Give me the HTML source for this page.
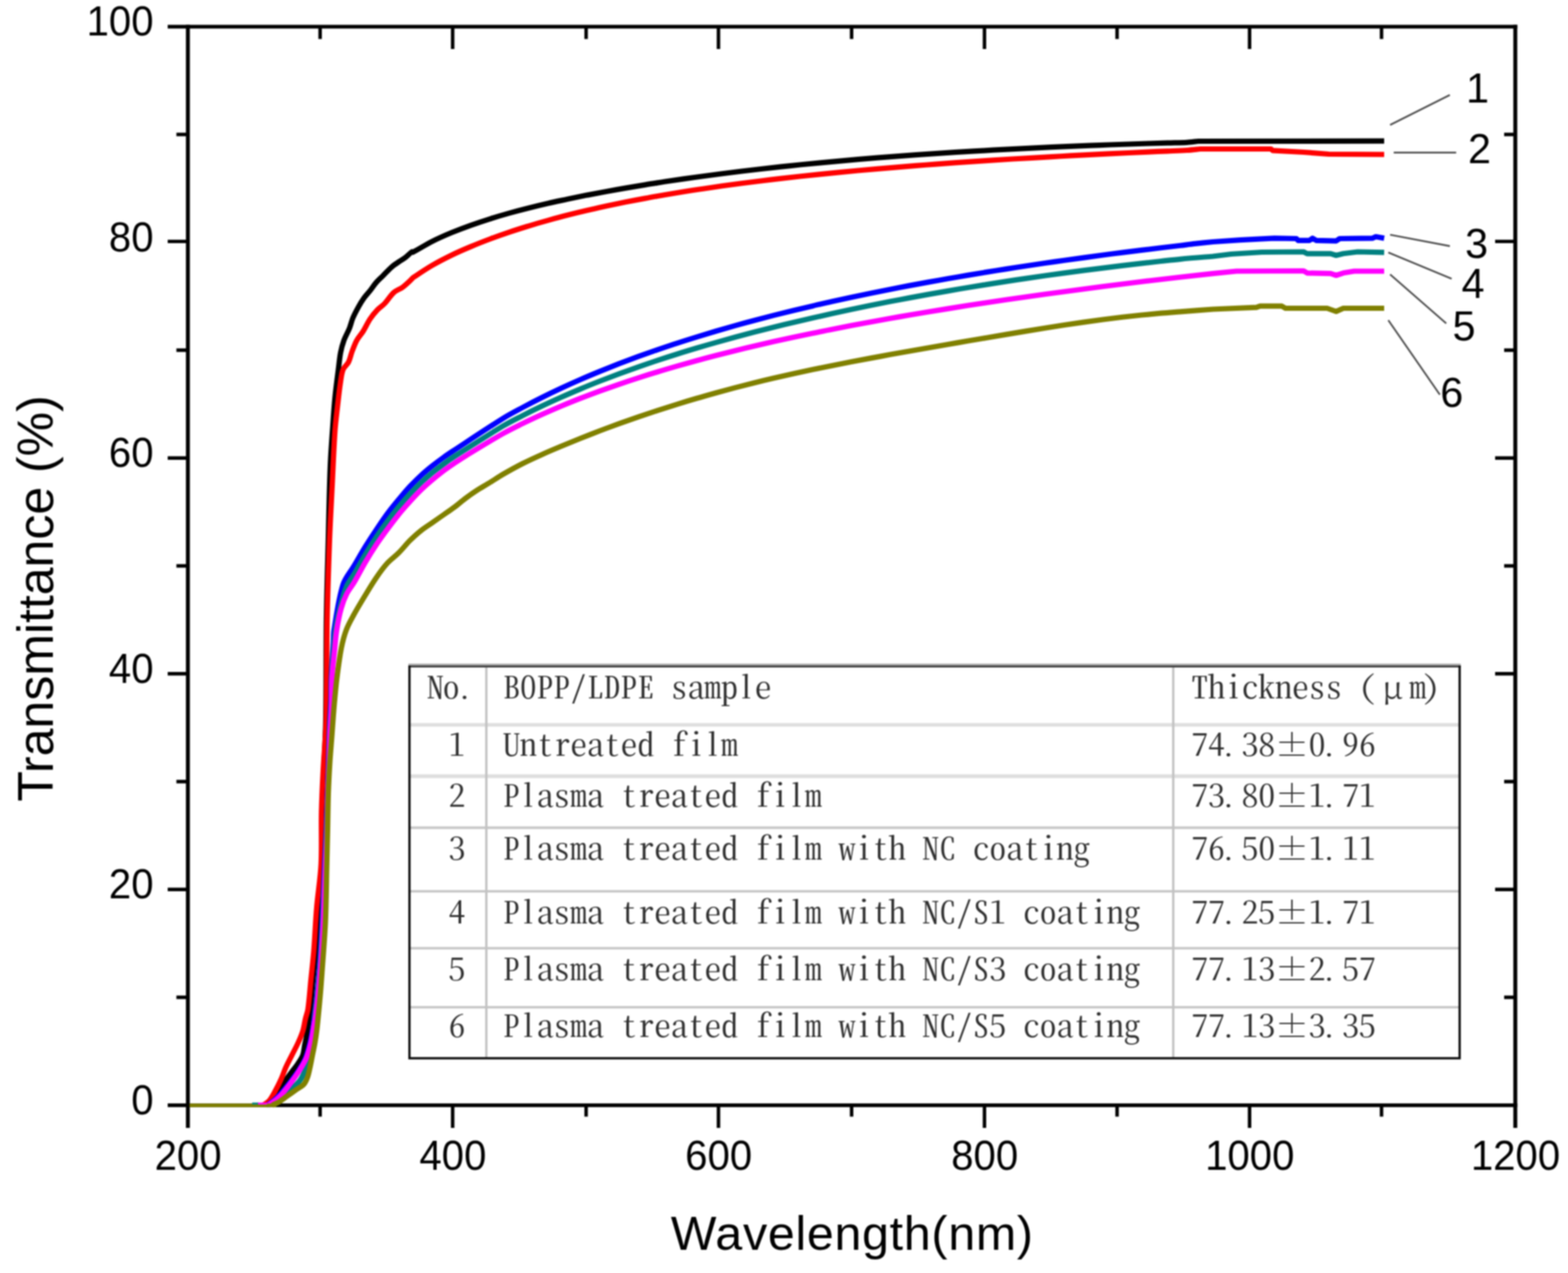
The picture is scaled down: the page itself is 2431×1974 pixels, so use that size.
<!DOCTYPE html>
<html lang="en"><head><meta charset="utf-8"><title>Transmittance vs Wavelength</title>
<style>
html,body{margin:0;padding:0;background:#fff;overflow:hidden;}
body{width:2431px;height:1974px;overflow:hidden;}
svg{display:block;filter:blur(0.8px);}
.ax{font-family:"Liberation Sans",Arial,sans-serif;fill:#000;}
.tb{font-family:"Noto Serif CJK SC","Liberation Serif",serif;fill:#2e2e2e;font-feature-settings:"hwid" 1,"liga" 0,"clig" 0,"calt" 0,"kern" 0;font-variant-ligatures:none;font-kerning:none;white-space:pre;}
</style></head><body>
<svg width="2431" height="1974" viewBox="0 0 2431 1974" role="img" aria-label="Transmittance versus wavelength of BOPP/LDPE film samples">
<rect width="2431" height="1974" fill="#fff"/>
<g stroke="#000" fill="none" stroke-linecap="butt">
<path stroke-width="5.7" d="M260 41.3 H2352.4"/>
<path stroke-width="5.7" d="M260 1713.8 H2352.4"/>
<path stroke-width="6.1" d="M291.3 38.4 V1749"/>
<path stroke-width="6.1" d="M2349.3 38.4 V1749"/>
</g>
<g stroke="#000" stroke-width="5.4" fill="none">
<path d="M496.3 1713.8 V1731.5 M496.3 41.3 V60.6 M701.8 1713.8 V1749 M701.8 41.3 V76 M908.7 1713.8 V1731.5 M908.7 41.3 V60.6 M1113.9 1713.8 V1749 M1113.9 41.3 V76 M1320.3 1713.8 V1731.5 M1320.3 41.3 V60.6 M1526.3 1713.8 V1749 M1526.3 41.3 V76 M1731.9 1713.8 V1731.5 M1731.9 41.3 V60.6 M1937.3 1713.8 V1749 M1937.3 41.3 V76 M2141.9 1713.8 V1731.5 M2141.9 41.3 V60.6 M291.3 1546.5 H273.5 M2349.3 1546.5 H2332 M291.3 1379.3 H260 M2349.3 1379.3 H2318 M291.3 1212.0 H273.5 M2349.3 1212.0 H2332 M291.3 1044.8 H260 M2349.3 1044.8 H2318 M291.3 877.5 H273.5 M2349.3 877.5 H2332 M291.3 710.3 H260 M2349.3 710.3 H2318 M291.3 543.0 H273.5 M2349.3 543.0 H2332 M291.3 374.4 H260 M2349.3 374.4 H2318 M291.3 208.5 H273.5 M2349.3 208.5 H2332"/>
</g>
<g fill="none" stroke-width="8.2" stroke-linejoin="round" stroke-linecap="butt">
<path stroke="#000000" d="M412.0 1713.8 C415.1 1711.9 418.8 1710.7 421.3 1708.0 C425.1 1703.9 427.3 1698.6 430.3 1694.0 C434.0 1688.4 437.6 1682.8 441.4 1677.3 C444.4 1672.9 447.6 1668.5 450.8 1664.2 C454.5 1659.2 458.5 1654.4 462.0 1649.2 C464.8 1645.0 467.8 1640.8 469.5 1636.1 C471.2 1631.4 471.3 1626.2 472.3 1621.2 C473.2 1616.8 474.4 1612.4 475.1 1608.0 C477.3 1593.7 479.4 1579.4 481.0 1565.0 C482.7 1550.0 483.6 1535.0 485.0 1520.0 C486.4 1505.0 488.3 1490.0 489.5 1475.0 C491.3 1452.4 492.4 1429.7 494.0 1407.0 C495.6 1384.7 498.1 1362.4 499.0 1340.0 C500.1 1313.0 499.4 1286.0 500.0 1259.0 C500.4 1238.0 501.3 1217.0 502.0 1196.0 C502.9 1169.7 504.6 1143.3 505.0 1117.0 C505.9 1064.7 505.3 1012.3 506.0 960.0 C506.6 918.7 507.9 877.3 509.0 836.0 C509.9 798.7 510.5 761.3 512.0 724.0 C512.8 702.6 514.5 681.3 516.0 660.0 C517.0 645.3 518.0 630.6 519.4 616.0 C520.8 601.6 522.8 587.2 524.6 572.8 C525.7 564.2 526.4 555.5 528.0 546.9 C529.2 540.5 531.0 534.1 533.2 527.9 C535.6 521.4 539.2 515.4 541.8 509.0 C543.8 503.9 544.9 498.4 547.0 493.3 C549.5 487.4 552.6 481.6 555.7 476.0 C558.3 471.3 561.2 466.6 564.3 462.2 C566.9 458.5 570.1 455.3 572.9 451.8 C576.5 447.3 579.5 442.4 583.3 438.0 C586.5 434.3 590.2 431.1 593.7 427.6 C598.3 423.0 602.6 418.1 607.5 413.8 C611.2 410.6 615.5 408.0 619.6 405.2 C622.4 403.2 625.5 401.6 628.2 399.5 C631.8 396.7 634.9 393.1 638.6 390.5 C639.0 390.2 639.5 391.4 640.0 391.2 C650.2 385.9 659.8 379.6 670.0 374.4 C679.8 369.4 689.9 365.0 700.0 360.8 C709.9 356.7 719.9 352.9 730.0 349.3 C739.9 345.8 749.9 342.5 760.0 339.3 C769.9 336.2 780.0 333.2 790.0 330.4 C800.0 327.6 810.0 325.0 820.0 322.5 C830.0 320.0 840.0 317.6 850.0 315.3 C860.0 313.0 870.0 310.9 880.0 308.7 C890.0 306.6 900.0 304.6 910.0 302.6 C920.0 300.7 930.0 298.8 940.0 297.0 C950.0 295.1 960.0 293.3 970.0 291.6 C980.0 289.9 990.0 288.2 1000.0 286.6 C1010.0 284.9 1020.0 283.4 1030.0 281.8 C1040.0 280.3 1050.0 278.8 1060.0 277.4 C1070.0 275.9 1080.0 274.5 1090.0 273.2 C1100.0 271.8 1110.0 270.5 1120.0 269.2 C1130.0 267.9 1140.0 266.7 1150.0 265.5 C1160.0 264.3 1170.0 263.1 1180.0 262.0 C1190.0 260.8 1200.0 259.7 1210.0 258.6 C1220.0 257.6 1230.0 256.5 1240.0 255.5 C1250.0 254.5 1260.0 253.5 1270.0 252.6 C1280.0 251.6 1290.0 250.7 1300.0 249.8 C1310.0 248.9 1320.0 248.0 1330.0 247.2 C1340.0 246.3 1350.0 245.5 1360.0 244.7 C1370.0 243.9 1380.0 243.1 1390.0 242.4 C1400.0 241.6 1410.0 240.9 1420.0 240.2 C1430.0 239.5 1440.0 238.8 1450.0 238.1 C1460.0 237.5 1470.0 236.8 1480.0 236.2 C1490.0 235.6 1500.0 235.0 1510.0 234.4 C1520.0 233.8 1530.0 233.2 1540.0 232.7 C1550.0 232.1 1560.0 231.6 1570.0 231.1 C1580.0 230.6 1590.0 230.1 1600.0 229.6 C1610.0 229.1 1620.0 228.6 1630.0 228.2 C1640.0 227.7 1650.0 227.3 1660.0 226.9 C1670.0 226.5 1680.0 226.1 1690.0 225.7 C1700.0 225.3 1710.0 224.9 1720.0 224.5 C1730.0 224.2 1740.0 223.8 1750.0 223.5 C1760.0 223.1 1770.0 222.8 1780.0 222.5 C1790.0 222.2 1800.0 221.9 1810.0 221.6 C1820.0 221.3 1830.0 221.3 1840.0 220.8 C1846.0 220.4 1852.0 219.6 1858.0 219.0 L2146.0 218.7"/>
<path stroke="#ff0000" d="M408.0 1713.8 C411.0 1711.6 414.7 1710.0 417.1 1707.2 C420.9 1702.8 423.6 1697.4 426.4 1692.3 C429.8 1686.2 432.9 1679.9 435.8 1673.5 C438.6 1667.4 440.5 1660.9 443.3 1654.8 C446.2 1648.4 449.5 1642.3 452.6 1636.1 C455.7 1629.9 459.1 1623.8 462.0 1617.4 C464.8 1611.3 467.5 1605.1 469.5 1598.7 C471.4 1592.6 472.0 1586.2 473.5 1580.0 C474.7 1574.9 476.8 1569.9 477.5 1564.7 C479.6 1549.9 480.5 1534.9 482.0 1520.0 C483.5 1505.0 485.3 1490.0 486.5 1475.0 C488.3 1452.5 489.1 1429.9 491.0 1407.4 C492.9 1384.9 496.7 1362.6 497.8 1340.0 C499.1 1313.0 497.8 1286.0 498.4 1259.0 C498.9 1238.0 499.9 1217.0 501.0 1196.0 C502.3 1169.7 504.9 1143.4 505.6 1117.0 C507.0 1064.7 506.2 1012.3 507.2 960.0 C508.0 918.9 509.4 877.9 510.9 836.8 C512.0 808.7 513.6 780.7 515.0 752.6 C516.4 724.5 517.4 696.4 519.3 668.4 C520.2 654.9 522.0 641.5 523.5 628.0 C524.8 616.7 526.0 605.3 527.7 594.0 C528.8 586.9 529.3 579.6 531.9 572.9 C533.6 568.6 538.2 565.9 540.3 561.7 C542.9 556.4 543.8 550.4 545.9 544.9 C548.1 539.2 550.1 533.4 553.0 528.0 C555.7 523.0 559.8 518.8 562.8 514.0 C566.8 507.6 569.8 500.6 574.0 494.3 C577.3 489.3 581.1 484.6 585.2 480.3 C588.6 476.7 593.1 474.1 596.5 470.5 C601.5 465.2 605.1 458.5 610.5 453.6 C614.5 450.0 620.1 448.5 624.5 445.2 C629.5 441.4 634.0 436.9 638.6 432.6 C639.2 432.1 639.4 431.3 640.0 430.8 C649.9 424.2 659.7 417.5 670.0 411.5 C679.7 405.8 689.8 400.7 700.0 395.7 C709.8 391.0 719.9 386.6 730.0 382.4 C739.9 378.2 749.9 374.3 760.0 370.5 C769.9 366.8 779.9 363.3 790.0 359.9 C799.9 356.5 810.0 353.4 820.0 350.3 C830.0 347.2 840.0 344.3 850.0 341.6 C860.0 338.8 870.0 336.1 880.0 333.6 C890.0 331.0 900.0 328.6 910.0 326.3 C920.0 323.9 930.0 321.7 940.0 319.5 C950.0 317.4 960.0 315.3 970.0 313.3 C980.0 311.3 990.0 309.4 1000.0 307.6 C1010.0 305.7 1020.0 304.0 1030.0 302.2 C1040.0 300.5 1050.0 298.9 1060.0 297.3 C1070.0 295.7 1080.0 294.1 1090.0 292.7 C1100.0 291.2 1110.0 289.7 1120.0 288.3 C1130.0 286.9 1140.0 285.6 1150.0 284.3 C1160.0 283.0 1170.0 281.7 1180.0 280.5 C1190.0 279.2 1200.0 278.0 1210.0 276.9 C1220.0 275.7 1230.0 274.6 1240.0 273.5 C1250.0 272.4 1260.0 271.4 1270.0 270.4 C1280.0 269.3 1290.0 268.3 1300.0 267.4 C1310.0 266.4 1320.0 265.4 1330.0 264.5 C1340.0 263.6 1350.0 262.7 1360.0 261.9 C1370.0 261.0 1380.0 260.1 1390.0 259.3 C1400.0 258.5 1410.0 257.7 1420.0 256.9 C1430.0 256.1 1440.0 255.4 1450.0 254.6 C1460.0 253.9 1470.0 253.2 1480.0 252.4 C1490.0 251.7 1500.0 251.1 1510.0 250.4 C1520.0 249.7 1530.0 249.1 1540.0 248.4 C1550.0 247.8 1560.0 247.2 1570.0 246.5 C1580.0 245.9 1590.0 245.3 1600.0 244.8 C1610.0 244.2 1620.0 243.6 1630.0 243.1 C1640.0 242.5 1650.0 242.0 1660.0 241.4 C1670.0 240.9 1680.0 240.4 1690.0 239.9 C1700.0 239.4 1710.0 238.9 1720.0 238.4 C1730.0 237.9 1740.0 237.4 1750.0 237.0 C1760.0 236.5 1770.0 236.0 1780.0 235.6 C1790.0 235.2 1800.0 234.7 1810.0 234.3 C1820.0 233.9 1830.0 233.7 1840.0 233.0 C1847.0 232.6 1854.0 231.7 1861.0 231.0 L1970.5 231.0 L1973.0 233.3 L2021.0 236.0 L2060.0 239.0 L2146.0 239.5"/>
<path stroke="#0000ff" d="M414.0 1713.8 C417.3 1711.5 420.9 1709.6 424.0 1707.0 C428.0 1703.6 431.5 1699.9 435.0 1696.0 C440.1 1690.4 444.9 1684.5 449.5 1678.5 C454.0 1672.6 458.5 1666.7 462.5 1660.5 C466.4 1654.4 470.5 1648.4 473.3 1641.7 C476.5 1633.9 478.5 1625.6 480.5 1617.4 C482.7 1608.4 484.2 1599.2 485.7 1590.0 C486.5 1585.4 486.7 1580.7 487.2 1576.0 C488.5 1564.7 490.1 1553.4 491.2 1542.0 C492.7 1527.0 494.1 1512.0 495.2 1497.0 C496.8 1474.7 498.1 1452.3 499.2 1430.0 C500.7 1400.0 501.8 1370.0 503.2 1340.0 C504.0 1322.0 505.0 1304.0 505.7 1286.0 C506.4 1268.0 507.0 1250.0 507.6 1232.0 C508.1 1216.3 508.7 1200.7 509.2 1185.0 C509.8 1165.7 510.2 1146.3 510.9 1127.0 C511.4 1113.0 512.5 1099.0 513.0 1085.0 C513.4 1073.3 513.1 1061.7 513.6 1050.0 C514.4 1032.0 515.8 1014.0 516.9 996.0 C517.3 989.7 516.9 983.3 517.9 977.0 C521.8 953.4 524.7 929.4 531.8 906.5 C535.2 895.7 543.4 886.9 549.1 877.1 C554.9 867.3 560.4 857.4 566.4 847.7 C572.0 838.7 577.8 829.8 583.7 821.0 C589.3 812.5 594.9 804.1 601.0 795.9 C606.4 788.5 612.3 781.4 618.2 774.3 C623.9 767.6 629.5 760.9 635.5 754.4 C641.1 748.5 646.8 742.7 652.8 737.2 C658.4 732.0 664.2 727.2 670.1 722.5 C675.7 718.0 681.5 713.7 687.4 709.5 C691.9 706.2 696.5 703.1 701.2 700.0 C727.4 682.8 753.4 665.3 780.0 648.7 C789.7 642.6 799.9 637.4 810.0 632.0 C819.9 626.7 829.9 621.5 840.0 616.5 C849.9 611.5 859.9 606.7 870.0 602.0 C879.9 597.4 889.9 592.9 900.0 588.5 C909.9 584.2 920.0 580.0 930.0 575.9 C940.0 571.8 950.0 567.8 960.0 563.9 C970.0 560.1 980.0 556.4 990.0 552.7 C1000.0 549.1 1010.0 545.6 1020.0 542.1 C1030.0 538.7 1040.0 535.3 1050.0 532.1 C1060.0 528.8 1070.0 525.7 1080.0 522.6 C1090.0 519.5 1100.0 516.5 1110.0 513.5 C1120.0 510.6 1130.0 507.7 1140.0 504.9 C1150.0 502.1 1160.0 499.4 1170.0 496.8 C1180.0 494.1 1190.0 491.5 1200.0 488.9 C1210.0 486.4 1220.0 483.9 1230.0 481.5 C1240.0 479.1 1250.0 476.7 1260.0 474.4 C1270.0 472.0 1280.0 469.8 1290.0 467.5 C1300.0 465.3 1310.0 463.1 1320.0 461.0 C1330.0 458.9 1340.0 456.8 1350.0 454.7 C1360.0 452.7 1370.0 450.7 1380.0 448.7 C1390.0 446.8 1400.0 444.8 1410.0 442.9 C1420.0 441.0 1430.0 439.2 1440.0 437.4 C1450.0 435.6 1460.0 433.8 1470.0 432.0 C1480.0 430.3 1490.0 428.6 1500.0 426.9 C1510.0 425.2 1520.0 423.5 1530.0 421.9 C1540.0 420.3 1550.0 418.7 1560.0 417.1 C1570.0 415.6 1580.0 414.0 1590.0 412.5 C1600.0 411.0 1610.0 409.5 1620.0 408.0 C1630.0 406.6 1640.0 405.1 1650.0 403.7 C1660.0 402.3 1670.0 400.9 1680.0 399.6 C1690.0 398.2 1700.0 396.8 1710.0 395.5 C1720.0 394.2 1730.0 392.9 1740.0 391.6 C1750.0 390.3 1760.0 389.1 1770.0 387.9 C1780.0 386.6 1790.0 385.4 1800.0 384.2 C1810.0 383.0 1820.0 381.9 1830.0 380.7 C1837.5 379.8 1845.1 378.7 1852.6 377.9 C1862.0 376.9 1871.3 376.0 1880.7 375.0 L1922.8 372.2 L1976.0 369.4 L2009.8 370.0 L2012.6 372.8 L2030.0 372.8 L2035.0 369.4 L2040.6 372.8 L2071.5 373.6 L2077.0 370.0 L2127.6 369.4 L2133.0 367.0 L2146.0 369.4"/>
<path stroke="#008080" d="M416.0 1713.8 C420.0 1711.7 424.2 1709.9 428.0 1707.5 C432.5 1704.6 436.8 1701.3 441.0 1698.0 C445.8 1694.2 450.6 1690.3 455.0 1686.0 C458.9 1682.2 463.1 1678.6 466.0 1674.0 C469.8 1668.1 472.5 1661.6 474.9 1655.0 C477.7 1646.9 479.7 1638.4 481.6 1630.0 C483.8 1620.1 486.0 1610.1 487.2 1600.0 C488.2 1592.1 487.5 1584.0 488.2 1576.0 C489.2 1564.6 491.1 1553.4 492.2 1542.0 C493.7 1527.0 495.1 1512.0 496.2 1497.0 C497.8 1474.7 499.1 1452.3 500.2 1430.0 C501.7 1400.0 502.9 1370.0 504.2 1340.0 C504.9 1322.0 505.6 1304.0 506.2 1286.0 C506.8 1268.0 507.3 1250.0 507.9 1232.0 C508.4 1216.3 509.2 1200.7 509.7 1185.0 C510.3 1168.0 510.5 1151.0 511.2 1134.0 C511.8 1119.3 513.1 1104.7 513.6 1090.0 C514.1 1076.7 513.5 1063.3 514.2 1050.0 C515.0 1033.3 516.7 1016.7 518.0 1000.0 C518.6 992.3 518.8 984.6 520.0 977.0 C521.9 964.9 524.5 952.9 527.5 941.0 C530.2 930.5 532.8 919.9 537.0 910.0 C540.1 902.8 545.2 896.8 549.1 890.1 C555.0 880.1 560.4 869.8 566.4 859.8 C571.9 850.6 577.7 841.5 583.7 832.5 C589.2 824.2 595.0 816.0 601.0 808.0 C606.5 800.5 612.3 793.1 618.2 785.9 C623.8 779.1 629.6 772.5 635.5 766.0 C641.1 760.0 646.8 754.1 652.8 748.4 C658.4 743.1 664.2 738.1 670.1 733.2 C675.7 728.6 681.5 724.2 687.4 719.9 C693.0 715.7 698.7 711.6 704.6 707.8 C729.6 691.8 754.6 675.8 780.0 660.6 C789.7 654.7 799.9 649.8 810.0 644.6 C819.9 639.5 829.9 634.6 840.0 629.8 C849.9 625.0 859.9 620.5 870.0 616.0 C879.9 611.6 890.0 607.3 900.0 603.1 C910.0 598.9 920.0 594.9 930.0 591.0 C940.0 587.1 950.0 583.3 960.0 579.6 C970.0 575.9 980.0 572.3 990.0 568.8 C1000.0 565.3 1010.0 561.9 1020.0 558.6 C1030.0 555.3 1040.0 552.1 1050.0 549.0 C1060.0 545.8 1070.0 542.8 1080.0 539.8 C1090.0 536.8 1100.0 533.9 1110.0 531.1 C1120.0 528.3 1130.0 525.5 1140.0 522.8 C1150.0 520.1 1160.0 517.4 1170.0 514.8 C1180.0 512.2 1190.0 509.7 1200.0 507.2 C1210.0 504.8 1220.0 502.3 1230.0 499.9 C1240.0 497.6 1250.0 495.3 1260.0 493.0 C1270.0 490.7 1280.0 488.5 1290.0 486.3 C1300.0 484.1 1310.0 481.9 1320.0 479.8 C1330.0 477.7 1340.0 475.6 1350.0 473.6 C1360.0 471.6 1370.0 469.6 1380.0 467.6 C1390.0 465.7 1400.0 463.8 1410.0 461.9 C1420.0 460.0 1430.0 458.2 1440.0 456.4 C1450.0 454.6 1460.0 452.8 1470.0 451.1 C1480.0 449.3 1490.0 447.6 1500.0 446.0 C1510.0 444.3 1520.0 442.7 1530.0 441.1 C1540.0 439.5 1550.0 437.9 1560.0 436.4 C1570.0 434.8 1580.0 433.3 1590.0 431.9 C1600.0 430.4 1610.0 428.9 1620.0 427.5 C1630.0 426.1 1640.0 424.7 1650.0 423.4 C1660.0 422.0 1670.0 420.7 1680.0 419.4 C1690.0 418.1 1700.0 416.8 1710.0 415.6 C1720.0 414.3 1730.0 413.1 1740.0 411.9 C1750.0 410.7 1760.0 409.5 1770.0 408.4 C1780.0 407.2 1790.0 406.1 1800.0 405.0 C1810.0 403.9 1820.0 402.7 1830.0 401.8 C1846.9 400.2 1863.8 398.9 1880.7 397.5 L1908.7 394.0 L1956.4 391.0 L2021.0 390.5 L2026.6 393.3 L2063.0 393.3 L2071.5 396.0 L2082.7 393.3 L2105.0 390.5 L2146.0 391.3"/>
<path stroke="#ff00ff" d="M416.0 1713.8 C419.3 1711.5 422.7 1709.5 425.8 1707.0 C429.3 1704.2 432.8 1701.3 435.8 1697.9 C441.1 1692.0 446.0 1685.6 450.8 1679.2 C455.4 1673.1 459.8 1666.9 463.9 1660.4 C467.7 1654.3 471.7 1648.3 474.5 1641.7 C477.7 1633.9 479.8 1625.6 481.8 1617.4 C484.0 1608.2 485.1 1598.7 486.8 1589.4 C487.6 1584.9 488.6 1580.5 489.2 1576.0 C490.7 1564.7 492.1 1553.4 493.2 1542.0 C494.7 1527.0 496.1 1512.0 497.2 1497.0 C498.8 1474.7 500.1 1452.3 501.2 1430.0 C502.6 1400.0 503.5 1370.0 504.7 1340.0 C505.5 1322.0 506.6 1304.0 507.2 1286.0 C507.8 1267.3 507.6 1248.7 508.2 1230.0 C508.6 1215.0 509.6 1200.0 510.2 1185.0 C510.8 1170.0 511.0 1155.0 511.6 1140.0 C512.2 1125.0 513.4 1110.0 513.9 1095.0 C514.4 1080.0 513.9 1065.0 514.7 1050.0 C515.6 1035.0 517.5 1020.0 519.0 1005.0 C519.9 995.7 520.5 986.3 522.0 977.0 C523.8 965.7 525.9 954.4 529.0 943.4 C531.1 935.7 533.9 928.1 537.5 921.0 C540.7 914.6 545.5 909.2 549.1 903.0 C555.1 892.8 560.4 882.2 566.4 871.9 C571.9 862.6 577.7 853.3 583.7 844.3 C589.2 836.0 595.1 828.1 601.0 820.1 C606.6 812.5 612.3 805.0 618.2 797.6 C623.8 790.8 629.6 784.3 635.5 777.8 C641.1 771.6 646.8 765.4 652.8 759.6 C658.3 754.2 664.2 749.1 670.1 744.1 C675.7 739.3 681.5 734.7 687.4 730.2 C693.0 726.0 698.8 722.1 704.6 718.1 C710.3 714.3 716.1 710.5 721.9 706.9 C741.2 695.2 760.4 683.4 780.0 672.3 C789.8 666.7 799.9 661.9 810.0 656.9 C819.9 652.0 829.9 647.4 840.0 642.8 C849.9 638.3 859.9 634.0 870.0 629.7 C879.9 625.6 890.0 621.5 900.0 617.6 C910.0 613.7 920.0 610.0 930.0 606.3 C940.0 602.7 950.0 599.2 960.0 595.8 C970.0 592.3 980.0 589.0 990.0 585.8 C1000.0 582.6 1010.0 579.5 1020.0 576.5 C1030.0 573.4 1040.0 570.5 1050.0 567.6 C1060.0 564.8 1070.0 562.0 1080.0 559.3 C1090.0 556.5 1100.0 553.9 1110.0 551.3 C1120.0 548.7 1130.0 546.2 1140.0 543.7 C1150.0 541.3 1160.0 538.9 1170.0 536.5 C1180.0 534.2 1190.0 531.9 1200.0 529.6 C1210.0 527.4 1220.0 525.2 1230.0 523.1 C1240.0 520.9 1250.0 518.8 1260.0 516.7 C1270.0 514.7 1280.0 512.6 1290.0 510.7 C1300.0 508.7 1310.0 506.7 1320.0 504.8 C1330.0 502.9 1340.0 501.0 1350.0 499.2 C1360.0 497.4 1370.0 495.6 1380.0 493.8 C1390.0 492.0 1400.0 490.3 1410.0 488.5 C1420.0 486.8 1430.0 485.1 1440.0 483.5 C1450.0 481.8 1460.0 480.2 1470.0 478.6 C1480.0 477.0 1490.0 475.4 1500.0 473.8 C1510.0 472.3 1520.0 470.8 1530.0 469.2 C1540.0 467.7 1550.0 466.3 1560.0 464.8 C1570.0 463.3 1580.0 461.9 1590.0 460.5 C1600.0 459.0 1610.0 457.6 1620.0 456.2 C1630.0 454.9 1640.0 453.5 1650.0 452.2 C1660.0 450.8 1670.0 449.5 1680.0 448.2 C1690.0 446.9 1700.0 445.6 1710.0 444.3 C1720.0 443.0 1730.0 441.7 1740.0 440.5 C1750.0 439.2 1760.0 438.0 1770.0 436.8 C1780.0 435.6 1790.0 434.4 1800.0 433.2 C1810.0 432.0 1820.0 430.8 1830.0 429.7 C1846.9 427.8 1863.8 426.0 1880.7 424.2 L1917.0 420.5 L2021.0 420.0 L2026.6 423.3 L2063.0 424.2 L2071.5 427.0 L2082.7 423.3 L2099.6 420.5 L2146.0 420.5"/>
<path stroke="#808000" d="M422.0 1713.8 C425.3 1712.2 428.8 1710.9 432.0 1709.0 C436.6 1706.2 440.8 1702.8 445.2 1699.7 C449.6 1696.6 453.9 1693.5 458.3 1690.4 C462.7 1687.3 467.8 1685.0 471.4 1681.0 C474.2 1677.9 475.6 1673.7 477.0 1669.8 C478.7 1664.9 479.6 1659.8 480.7 1654.8 C482.1 1648.6 483.2 1642.3 484.4 1636.1 C485.7 1629.9 487.1 1623.7 488.2 1617.4 C489.3 1611.2 490.2 1605.0 491.0 1598.7 C491.8 1592.5 492.4 1586.2 493.0 1580.0 C494.3 1567.3 495.5 1554.7 496.6 1542.0 C497.9 1527.0 498.9 1512.0 500.0 1497.0 C501.6 1474.7 503.5 1452.4 504.5 1430.0 C505.8 1400.0 506.0 1370.0 506.7 1340.0 C507.1 1322.0 507.5 1304.0 507.9 1286.0 C508.3 1267.3 508.4 1248.7 509.0 1230.0 C509.5 1215.0 510.3 1200.0 511.2 1185.0 C512.1 1170.0 513.5 1155.0 514.6 1140.0 C515.7 1125.0 516.7 1110.0 518.0 1095.0 C519.3 1080.0 520.6 1065.0 522.5 1050.0 C524.4 1035.0 526.3 1019.9 529.2 1005.0 C531.1 995.3 533.5 985.7 537.0 976.5 C540.2 968.0 544.8 960.2 549.1 952.3 C554.6 942.3 560.5 932.6 566.4 922.9 C572.0 913.6 577.5 904.2 583.7 895.3 C589.0 887.5 594.6 879.8 601.0 872.8 C606.2 867.1 612.8 862.7 618.2 857.2 C624.3 851.2 629.5 844.3 635.5 838.2 C641.0 832.8 646.7 827.5 652.8 822.7 C658.3 818.3 664.3 814.6 670.1 810.6 C675.8 806.6 681.6 802.5 687.4 798.5 C693.1 794.5 699.0 790.6 704.6 786.4 C710.5 782.0 716.0 777.0 721.9 772.6 C727.5 768.4 733.3 764.3 739.2 760.5 C744.8 756.8 750.8 753.6 756.5 750.1 C764.4 745.3 772.0 740.1 780.0 735.4 C789.9 729.7 799.8 724.2 810.0 719.0 C819.8 714.0 829.9 709.4 840.0 704.9 C849.9 700.4 860.0 696.2 870.0 692.0 C880.0 687.8 890.0 683.7 900.0 679.7 C910.0 675.8 920.0 671.9 930.0 668.0 C940.0 664.3 950.0 660.5 960.0 656.9 C970.0 653.3 980.0 649.8 990.0 646.3 C1000.0 642.9 1010.0 639.6 1020.0 636.3 C1030.0 633.1 1040.0 629.9 1050.0 626.8 C1060.0 623.7 1070.0 620.7 1080.0 617.8 C1090.0 614.8 1100.0 612.0 1110.0 609.2 C1120.0 606.5 1130.0 603.8 1140.0 601.1 C1150.0 598.5 1160.0 596.0 1170.0 593.5 C1180.0 591.0 1190.0 588.6 1200.0 586.3 C1210.0 584.0 1220.0 581.7 1230.0 579.5 C1240.0 577.3 1250.0 575.1 1260.0 573.0 C1270.0 570.9 1280.0 568.9 1290.0 566.9 C1300.0 564.9 1310.0 563.0 1320.0 561.0 C1330.0 559.1 1340.0 557.2 1350.0 555.4 C1360.0 553.5 1370.0 551.7 1380.0 549.8 C1390.0 548.0 1400.0 546.2 1410.0 544.5 C1420.0 542.7 1430.0 540.9 1440.0 539.2 C1450.0 537.4 1460.0 535.7 1470.0 534.0 C1480.0 532.3 1490.0 530.5 1500.0 528.8 C1510.0 527.1 1520.0 525.4 1530.0 523.7 C1540.0 522.0 1550.0 520.3 1560.0 518.6 C1570.0 516.9 1580.0 515.2 1590.0 513.6 C1600.0 511.9 1610.0 510.3 1620.0 508.7 C1630.0 507.1 1640.0 505.5 1650.0 504.0 C1660.0 502.5 1670.0 501.0 1680.0 499.6 C1690.0 498.2 1700.0 496.8 1710.0 495.5 C1720.0 494.2 1730.0 493.0 1740.0 491.8 C1750.0 490.7 1760.0 489.6 1770.0 488.5 C1780.0 487.5 1790.0 486.6 1800.0 485.7 C1810.0 484.8 1820.0 484.1 1830.0 483.3 C1846.9 482.0 1863.8 480.8 1880.7 479.5 L1948.0 476.7 L1953.6 474.7 L1987.3 474.7 L1993.0 478.0 L2057.5 478.0 L2071.5 483.0 L2082.7 478.0 L2146.0 478.0"/>
</g>
<g fill="none" stroke-linecap="butt">
<path stroke="#808000" stroke-width="5.6" d="M293.9 1714 H428"/>
<path stroke="#008080" stroke-width="3" d="M391 1711.2 H401"/>
<path stroke="#ff00ff" stroke-width="3" d="M400 1711.2 H414"/>
</g>
<g class="ax" font-size="65.5">
<text transform="translate(291.6 1813.6) scale(0.95 1)" text-anchor="middle">200</text>
<text transform="translate(702.1 1813.6) scale(0.95 1)" text-anchor="middle">400</text>
<text transform="translate(1114.2 1813.6) scale(0.95 1)" text-anchor="middle">600</text>
<text transform="translate(1526.6 1813.6) scale(0.95 1)" text-anchor="middle">800</text>
<text transform="translate(1937.6 1813.6) scale(0.95 1)" text-anchor="middle">1000</text>
<text transform="translate(2349.6 1813.6) scale(0.95 1)" text-anchor="middle">1200</text>
<text transform="translate(238 1727.6) scale(0.95 1)" text-anchor="end">0</text>
<text transform="translate(238 1393.1) scale(0.95 1)" text-anchor="end">20</text>
<text transform="translate(238 1058.6) scale(0.95 1)" text-anchor="end">40</text>
<text transform="translate(238 724.1) scale(0.95 1)" text-anchor="end">60</text>
<text transform="translate(238 389.6) scale(0.95 1)" text-anchor="end">80</text>
<text transform="translate(238 55.1) scale(0.95 1)" text-anchor="end">100</text>
</g>
<text class="ax" font-size="75" x="1040" y="1938" letter-spacing="1.08">Wavelength(nm)</text>
<text class="ax" font-size="77.5" transform="translate(81.5 928) rotate(-90)" text-anchor="middle">Transmittance (%)</text>
<g stroke="#4a4a4a" stroke-width="2.7" fill="none">
<path d="M2155.2 193.7 L2247.8 147.3"/>
<path d="M2160.8 236.6 L2257.6 236.6"/>
<path d="M2155.2 364 L2247.8 381.7"/>
<path d="M2152.4 391.5 L2250.6 432.2"/>
<path d="M2155.2 425.5 L2242.2 501.5"/>
<path d="M2152.4 496.5 L2232.3 612"/>
</g>
<g class="ax" font-size="64">
<text x="2273" y="158.6">1</text>
<text x="2276" y="252.6">2</text>
<text x="2271.5" y="400">3</text>
<text x="2266" y="462.2">4</text>
<text x="2252" y="527.9">5</text>
<text x="2233" y="631.2">6</text>
</g>
<rect x="634.8" y="1033" width="1628.2" height="608" fill="#fff"/>
<g fill="none">
<path stroke="#dedede" stroke-width="5.6" d="M634.8 1124 H2263 M634.8 1203.6 H2263"/>
<path stroke="#c6c6c6" stroke-width="3.8" d="M634.8 1283.5 H2263 M634.8 1382.2 H2263 M634.8 1470.4 H2263 M634.8 1561.8 H2263"/>
<path stroke="#c2c2c2" stroke-width="3.6" d="M754 1033 V1641 M1819 1033 V1641"/>
<path stroke="#adadad" stroke-width="3.2" d="M633.0999999999999 1030.6 H2264.7"/>
<path stroke="#3c3c3c" stroke-width="3" d="M633.0999999999999 1033.6 H2264.7"/>
<path stroke="#0a0a0a" stroke-width="3.5" d="M634.8 1032.1 V1641 H2263 V1032.1"/>
</g>
<g class="tb" font-size="52" text-anchor="middle" xml:space="preserve" transform="scale(1 0.9)">
<text x="674.9 699.5 720.2" y="1203.4">No.</text>
<text x="793.0 819.0 845.0 871.0 897.0 923.0 949.0 975.0 1001.0 1027.0 1053.0 1079.0 1105.0 1131.0 1157.0 1183.0" y="1203.4">BOPP/LDPE sample</text>
<text x="1860.0 1886.0 1912.0 1938.0 1964.0 1990.0 2016.0 2042.0 2068.0 2094.0 2119.5 2159.0 2198.0 2219.5" y="1203.4">Thickness (μm)</text>
<text x="708.6" y="1302.0">1</text>
<text x="793.0 819.0 845.0 871.0 897.0 923.0 949.0 975.0 1001.0 1027.0 1053.0 1079.0 1105.0 1131.0" y="1302.0">Untreated film</text>
<text x="1860.0 1886.0 1904.5 1938.0 1964.0 2003.0 2042.0 2060.5 2094.0 2120.0" y="1302.0">74.38±0.96</text>
<text x="708.6" y="1390.3">2</text>
<text x="793.0 819.0 845.0 871.0 897.0 923.0 949.0 975.0 1001.0 1027.0 1053.0 1079.0 1105.0 1131.0 1157.0 1183.0 1209.0 1235.0 1261.0" y="1390.3">Plasma treated film</text>
<text x="1860.0 1886.0 1904.5 1938.0 1964.0 2003.0 2042.0 2060.5 2094.0 2120.0" y="1390.3">73.80±1.71</text>
<text x="708.6" y="1481.3">3</text>
<text x="793.0 819.0 845.0 871.0 897.0 923.0 949.0 975.0 1001.0 1027.0 1053.0 1079.0 1105.0 1131.0 1157.0 1183.0 1209.0 1235.0 1261.0 1287.0 1313.0 1339.0 1365.0 1391.0 1417.0 1443.0 1469.0 1495.0 1521.0 1547.0 1573.0 1599.0 1625.0 1651.0 1677.0" y="1481.3">Plasma treated film with NC coating</text>
<text x="1860.0 1886.0 1904.5 1938.0 1964.0 2003.0 2042.0 2060.5 2094.0 2120.0" y="1481.3">76.50±1.11</text>
<text x="708.6" y="1591.6">4</text>
<text x="793.0 819.0 845.0 871.0 897.0 923.0 949.0 975.0 1001.0 1027.0 1053.0 1079.0 1105.0 1131.0 1157.0 1183.0 1209.0 1235.0 1261.0 1287.0 1313.0 1339.0 1365.0 1391.0 1417.0 1443.0 1469.0 1495.0 1521.0 1547.0 1573.0 1599.0 1625.0 1651.0 1677.0 1703.0 1729.0 1755.0" y="1591.6">Plasma treated film with NC/S1 coating</text>
<text x="1860.0 1886.0 1904.5 1938.0 1964.0 2003.0 2042.0 2060.5 2094.0 2120.0" y="1591.6">77.25±1.71</text>
<text x="708.6" y="1689.3">5</text>
<text x="793.0 819.0 845.0 871.0 897.0 923.0 949.0 975.0 1001.0 1027.0 1053.0 1079.0 1105.0 1131.0 1157.0 1183.0 1209.0 1235.0 1261.0 1287.0 1313.0 1339.0 1365.0 1391.0 1417.0 1443.0 1469.0 1495.0 1521.0 1547.0 1573.0 1599.0 1625.0 1651.0 1677.0 1703.0 1729.0 1755.0" y="1689.3">Plasma treated film with NC/S3 coating</text>
<text x="1860.0 1886.0 1904.5 1938.0 1964.0 2003.0 2042.0 2060.5 2094.0 2120.0" y="1689.3">77.13±2.57</text>
<text x="708.6" y="1787.1">6</text>
<text x="793.0 819.0 845.0 871.0 897.0 923.0 949.0 975.0 1001.0 1027.0 1053.0 1079.0 1105.0 1131.0 1157.0 1183.0 1209.0 1235.0 1261.0 1287.0 1313.0 1339.0 1365.0 1391.0 1417.0 1443.0 1469.0 1495.0 1521.0 1547.0 1573.0 1599.0 1625.0 1651.0 1677.0 1703.0 1729.0 1755.0" y="1787.1">Plasma treated film with NC/S5 coating</text>
<text x="1860.0 1886.0 1904.5 1938.0 1964.0 2003.0 2042.0 2060.5 2094.0 2120.0" y="1787.1">77.13±3.35</text>
</g>
</svg>
</body></html>
